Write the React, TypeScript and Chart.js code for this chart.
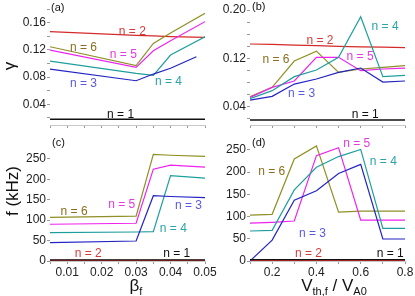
import React, { useEffect, useRef } from "react";
import Chart from "chart.js/auto";

// ---------- data ----------
// (a) growth rate vs beta_f
const betaA = [0.005, 0.03, 0.035, 0.04, 0.05];
const betaAN3 = [0.005, 0.03, 0.035, 0.04, 0.0475];
const gammaBetaN1 = [0.018, 0.018, 0.018, 0.018, 0.018];
const gammaBetaN2 = [0.147, 0.1414, 0.1405, 0.1395, 0.1385];
const gammaBetaN3 = [0.0919, 0.0747, 0.0845, 0.093, 0.11];
const gammaBetaN4 = [0.1036, 0.0855, 0.0826, 0.1125, 0.1394];
const gammaBetaN5 = [0.1198, 0.0944, 0.1188, 0.1335, 0.1615];
const gammaBetaN6 = [0.1247, 0.0968, 0.1296, 0.145, 0.1737];

// (b) growth rate vs V_th,f / V_A0
const vth = [0.1, 0.2, 0.3, 0.4, 0.5, 0.6, 0.7, 0.8];
const gammaVN1 = [0.018, 0.018, 0.018, 0.018, 0.018, 0.018, 0.018, 0.018];
const gammaVN2 = [0.1438, 0.143, 0.142, 0.141, 0.14, 0.139, 0.1385, 0.1377];
const gammaVN3 = [0.051, 0.0571, 0.0775, 0.0858, 0.0969, 0.104, 0.0808, 0.0825];
const gammaVN4 = [0.0532, 0.0665, 0.0897, 0.1007, 0.1217, 0.189, 0.0897, 0.0919];
const gammaVN5 = [0.0555, 0.072, 0.0825, 0.1217, 0.1217, 0.0996, 0.1024, 0.104];
const gammaVN6 = [0.0566, 0.072, 0.1156, 0.132, 0.0969, 0.1024, 0.105, 0.108];

// (c) frequency vs beta_f
const betaC = [0.005, 0.03, 0.035, 0.04, 0.05];
const freqBetaN1 = [3, 3, 3, 3, 3];
const freqBetaN2 = [1.5, 1.5, 1.5, 1.5, 1.5];
const freqBetaN3 = [45, 49, 160, 158, 155];
const freqBetaN4 = [69.5, 71, 72, 209, 203];
const freqBetaN5 = [90, 92.5, 225, 235, 230];
const freqBetaN6 = [107, 110, 261, 259, 256];

// (d) frequency vs V_th,f / V_A0
const freqVN1 = [3, 3, 3, 3, 3, 3, 3, 3];
const freqVN2 = [1.5, 1.5, 1.5, 1.5, 1.5, 1.5, 1.5, 1.5];
const freqVN3 = [0, 47, 137, 158, 197, 217.5, 49.5, 49.5];
const freqVN4 = [67.5, 69, 160, 211, 235, 251, 73.5, 73.5];
const freqVN5 = [85, 87, 90, 237, 255, 92, 92, 92];
const freqVN6 = [103, 105, 229.5, 259, 110, 112, 112, 112];

// tick values
const betaTicks = [0.005, 0.01, 0.015, 0.02, 0.025, 0.03, 0.035, 0.04, 0.045, 0.05];
const betaTickLabels = ["", "0.01", "", "0.02", "", "0.03", "", "0.04", "", "0.05"];
const vthTicks = [0.1, 0.2, 0.3, 0.4, 0.5, 0.6, 0.7, 0.8];
const vthTickLabels = ["", "0.2", "", "0.4", "", "0.6", "", "0.8"];
const gammaATicks = [0.02, 0.04, 0.06, 0.08, 0.1, 0.12, 0.14, 0.16, 0.18];
const gammaATickLabels = ["", "0.04", "", "0.08", "", "0.12", "", "0.16", ""];
const gammaBTicks = [0.02, 0.04, 0.06, 0.08, 0.1, 0.12, 0.14, 0.16, 0.18, 0.2];
const gammaBTickLabels = ["", "0.04", "", "", "", "0.12", "", "", "", "0.20"];
const freqTicks = [0, 50, 100, 150, 200, 250];
const freqTickLabels = ["0", "50", "100", "150", "200", "250"];

// series labels
const seriesNames = ["n = 1", "n = 2", "n = 3", "n = 4", "n = 5", "n = 6"];

// label anchor positions in data units [x, y] per panel, for n = 1..6
const labelPosA = [[0.0255, 0.0243], [0.0289, 0.1468], [0.0147, 0.0709], [0.0394, 0.0733], [0.0263, 0.1135], [0.0147, 0.1233]];
const labelPosB = [[0.62, 0.026], [0.416, 0.149], [0.333, 0.062], [0.71, 0.172], [0.597, 0.122], [0.2175, 0.117]];
const labelPosC = [[0.0418, 19], [0.0161, 19], [0.0452, 135], [0.0408, 78], [0.0258, 137], [0.012, 121]];
const labelPosD = [[0.733, 17], [0.364, 17], [0.382, 62], [0.702, 223.5], [0.582, 265], [0.198, 200]];

// ---------- styles ----------
const FONT = "Arial, 'Liberation Sans', Helvetica, sans-serif";
const lineColors = ["#111111", "#d42a2a", "#2323c4", "#1f9e9e", "#ee22ee", "#8f8f25"];
const textColors = ["#111111", "#d83a3a", "#5a5ae0", "#2aa5a5", "#e33ae3", "#8c6d1f"];

const labelPlugin = {
  id: "nlabels",
  afterDatasetsDraw(chart: any, _args: any, opts: any) {
    const { ctx, scales } = chart;
    ctx.save();
    ctx.font = `12px ${FONT}`;
    ctx.textAlign = "center";
    ctx.textBaseline = "middle";
    (opts.items || []).forEach((it: any) => {
      ctx.fillStyle = it.color;
      ctx.fillText(it.text, scales.x.getPixelForValue(it.x), scales.y.getPixelForValue(it.y));
    });
    ctx.restore();
  },
};

type Panel = {
  xs: number[][];
  ys: number[][];
  labels: number[][];
  xMin: number;
  xMax: number;
  yMin: number;
  yMax: number;
  xTicks: number[];
  xLabels: string[];
  yTicks: number[];
  yLabels: string[];
  padding: { left: number; right: number; top: number; bottom: number };
  xHeight: number;
  blackWidth: number;
};

function makeConfig(p: Panel): any {
  const order = [0, 2, 3, 4, 5, 1];
  const datasets = order.map((i) => ({
    label: seriesNames[i],
    data: p.xs[i].map((x, k) => ({ x, y: p.ys[i][k] })),
    borderColor: lineColors[i],
    backgroundColor: lineColors[i],
    borderWidth: i === 0 ? p.blackWidth : 1.2,
    pointRadius: 0,
    tension: 0,
    fill: false,
  }));
  const items = p.labels.map((pos, i) => ({ text: seriesNames[i], x: pos[0], y: pos[1], color: textColors[i] }));
  const tickFont = { family: FONT, size: 12 };
  return {
    type: "line",
    data: { datasets },
    plugins: [labelPlugin],
    options: {
      responsive: false,
      animation: false,
      devicePixelRatio: 1,
      layout: { padding: p.padding },
      plugins: {
        legend: { display: false },
        tooltip: { enabled: false },
        title: { display: false },
        nlabels: { items },
      },
      scales: {
        x: {
          type: "linear",
          min: p.xMin,
          max: p.xMax,
          afterBuildTicks: (s: any) => {
            s.ticks = p.xTicks.map((v) => ({ value: v }));
          },
          afterFit: (s: any) => {
            s.height = p.xHeight;
            s.paddingLeft = 0;
            s.paddingRight = 0;
          },
          ticks: {
            autoSkip: false,
            maxRotation: 0,
            minRotation: 0,
            padding: 1,
            color: "#222",
            font: tickFont,
            callback: (_v: any, idx: number) => p.xLabels[idx] ?? "",
          },
          grid: { drawOnChartArea: false, tickLength: 3, color: "#999" },
          border: { display: true, color: "#c8c8c8" },
        },
        y: {
          type: "linear",
          min: p.yMin,
          max: p.yMax,
          afterBuildTicks: (s: any) => {
            s.ticks = p.yTicks.map((v) => ({ value: v }));
          },
          afterFit: (s: any) => {
            s.width = 50;
            s.paddingTop = 0;
            s.paddingBottom = 0;
          },
          ticks: {
            autoSkip: false,
            padding: 1,
            color: "#222",
            font: tickFont,
            callback: (_v: any, idx: number) => p.yLabels[idx] ?? "",
          },
          grid: { drawOnChartArea: false, tickLength: 3, color: "#999" },
          border: { display: false },
        },
      },
    },
  };
}

const panelA: Panel = {
  xs: [betaA, betaA, betaAN3, betaA, betaA, betaA],
  ys: [gammaBetaN1, gammaBetaN2, gammaBetaN3, gammaBetaN4, gammaBetaN5, gammaBetaN6],
  labels: labelPosA,
  xMin: 0.005, xMax: 0.05, yMin: 0.0096, yMax: 0.1875,
  xTicks: betaTicks, xLabels: betaTicks.map(() => ""),
  yTicks: gammaATicks, yLabels: gammaATickLabels,
  padding: { left: 0, right: 210, top: 4, bottom: 167 },
  xHeight: 4, blackWidth: 1.6,
};
const panelB: Panel = {
  xs: [vth, vth, vth, vth, vth, vth],
  ys: [gammaVN1, gammaVN2, gammaVN3, gammaVN4, gammaVN5, gammaVN6],
  labels: labelPosB,
  xMin: 0.1, xMax: 0.8, yMin: 0.0097, yMax: 0.21,
  xTicks: vthTicks, xLabels: vthTicks.map(() => ""),
  yTicks: gammaBTicks, yLabels: gammaBTickLabels,
  padding: { left: 200, right: 10, top: 4, bottom: 167 },
  xHeight: 4, blackWidth: 1.6,
};
const panelC: Panel = {
  xs: [betaC, betaC, betaC, betaC, betaC, betaC],
  ys: [freqBetaN1, freqBetaN2, freqBetaN3, freqBetaN4, freqBetaN5, freqBetaN6],
  labels: labelPosC,
  xMin: 0.005, xMax: 0.05, yMin: 0, yMax: 289,
  xTicks: betaTicks, xLabels: betaTickLabels,
  yTicks: freqTicks, yLabels: freqTickLabels,
  padding: { left: 0, right: 210, top: 143, bottom: 15 },
  xHeight: 20, blackWidth: 1.2,
};
const panelD: Panel = {
  xs: [vth, vth, vth, vth, vth, vth],
  ys: [freqVN1, freqVN2, freqVN3, freqVN4, freqVN5, freqVN6],
  labels: labelPosD,
  xMin: 0.1, xMax: 0.8, yMin: 0, yMax: 270,
  xTicks: vthTicks, xLabels: vthTickLabels,
  yTicks: freqTicks, yLabels: freqTickLabels,
  padding: { left: 200, right: 10, top: 141, bottom: 15 },
  xHeight: 20, blackWidth: 1.2,
};

const panels = [panelA, panelB, panelC, panelD];

const W = 415;
const H = 296;

const txt = (extra: React.CSSProperties): React.CSSProperties => ({
  position: "absolute",
  fontFamily: FONT,
  color: "#111",
  whiteSpace: "nowrap",
  lineHeight: 1,
  ...extra,
});

export default function App() {
  const refs = [useRef<HTMLCanvasElement>(null), useRef<HTMLCanvasElement>(null), useRef<HTMLCanvasElement>(null), useRef<HTMLCanvasElement>(null)];
  useEffect(() => {
    const charts = panels.map((p, i) => new Chart(refs[i].current as HTMLCanvasElement, makeConfig(p)));
    return () => charts.forEach((c) => c.destroy());
  }, []);
  return (
    <div style={{ position: "fixed", left: 0, top: 0, width: W, height: H, background: "#fff", overflow: "hidden" }}>
      {refs.map((r, i) => (
        <canvas key={i} ref={r} width={W} height={H} style={{ position: "absolute", left: 0, top: 0, width: W, height: H }} />
      ))}
      <div style={txt({ left: 51, top: 2, fontSize: 11 })}>(a)</div>
      <div style={txt({ left: 252, top: 1, fontSize: 11 })}>(b)</div>
      <div style={txt({ left: 52, top: 137, fontSize: 11 })}>(c)</div>
      <div style={txt({ left: 252, top: 137, fontSize: 11 })}>(d)</div>
      <div style={txt({ left: 9, top: 66, fontSize: 17, transform: "translate(-50%, -50%) rotate(-90deg)" })}>γ</div>
      <div style={txt({ left: 12, top: 191, fontSize: 17, transform: "translate(-50%, -50%) rotate(-90deg)" })}>f (kHz)</div>
      <div style={txt({ left: 136, top: 287, fontSize: 17, transform: "translate(-50%, -50%)" })}>
        β<sub style={{ fontSize: 11, verticalAlign: "-4px" }}>f</sub>
      </div>
      <div style={txt({ left: 334, top: 287, fontSize: 17, transform: "translate(-50%, -50%)" })}>
        V<sub style={{ fontSize: 11, verticalAlign: "-4px" }}>th,f</sub> / V<sub style={{ fontSize: 11, verticalAlign: "-4px" }}>A0</sub>
      </div>
    </div>
  );
}
